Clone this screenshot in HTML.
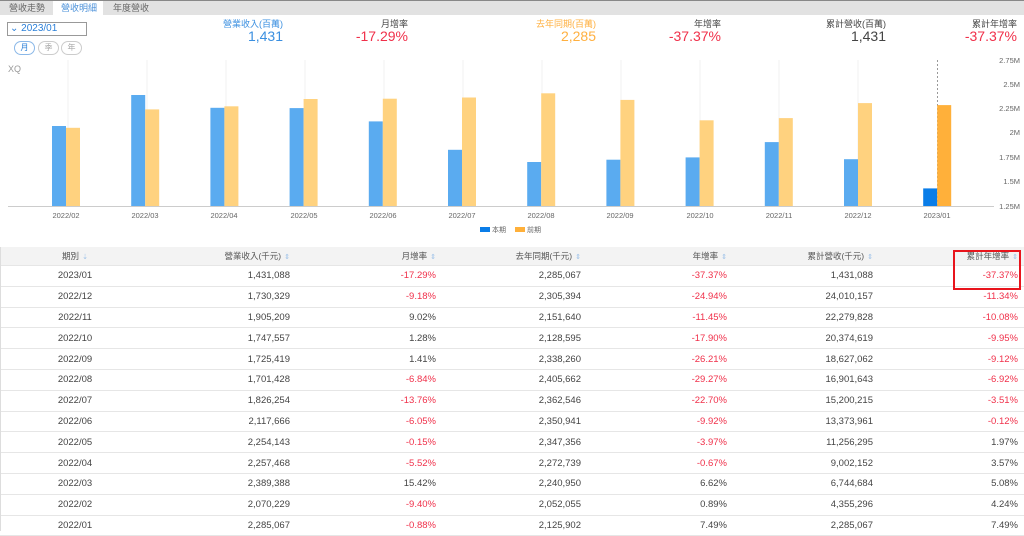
<!DOCTYPE html>
<html><head><meta charset="utf-8">
<style>
body{margin:0;width:1024px;height:531px;overflow:hidden;background:#fff;font-family:"Liberation Sans","Noto Sans CJK TC",sans-serif;position:relative;color:#444}
.a{position:absolute;white-space:nowrap}
.tabs{left:0;top:0;width:1024px;height:14px;background:#e2e2e2;border-top:1px solid #888}
.tab{position:absolute;top:1px;font-size:9px;color:#666}
.lbl{font-size:9px;text-align:right}
.val{font-size:14px;text-align:right}
.red{color:#f0304a}
table{position:absolute;left:0;top:247px;width:1024px;border-collapse:collapse;font-size:9.5px;color:#444}
td,th{height:19.8px;padding:0;border-bottom:1px solid #e6e6e6;text-align:right}
th{font-weight:normal;background:#f3f3f3;height:18px;font-size:8.5px;color:#555}
td.r{color:#f0304a}
.s{color:#9bc0e8;font-size:7px;margin-left:3px}
</style></head><body>
<div class="a tabs"></div>
<div class="a tab" style="left:9px">營收走勢</div>
<div class="a" style="left:53px;top:1px;width:50px;height:14px;background:#fff"></div>
<div class="a tab" style="left:61px;color:#4a90d9">營收明細</div>
<div class="a tab" style="left:113px">年度營收</div>
<div class="a" style="left:7px;top:22px;width:76px;height:12px;border:1px solid #999;font-size:10px;color:#2a7fd8;line-height:12px;padding-left:2px">⌄ 2023/01</div>
<div class="a" style="left:14px;top:41px;width:19px;height:12px;border:1px solid #8bb8e8;border-radius:7px;font-size:8px;color:#2a7fd8;text-align:center;line-height:12px">月</div>
<div class="a" style="left:38px;top:41px;width:19px;height:12px;border:1px solid #ccc;border-radius:7px;font-size:8px;color:#aaa;text-align:center;line-height:12px">季</div>
<div class="a" style="left:61px;top:41px;width:19px;height:12px;border:1px solid #ccc;border-radius:7px;font-size:8px;color:#aaa;text-align:center;line-height:12px">年</div>
<div class="a" style="left:8px;top:64px;font-size:9px;color:#999">XQ</div>

<div class="a lbl" style="right:741px;top:17px;color:#3a8fe0">營業收入(百萬)</div>
<div class="a val" style="right:741px;top:28px;color:#3a8fe0">1,431</div>
<div class="a lbl" style="right:616px;top:17px">月增率</div>
<div class="a val red" style="right:616px;top:28px">-17.29%</div>
<div class="a lbl" style="right:428px;top:17px;color:#ffb040">去年同期(百萬)</div>
<div class="a val" style="right:428px;top:28px;color:#ffb040">2,285</div>
<div class="a lbl" style="right:303px;top:17px">年增率</div>
<div class="a val red" style="right:303px;top:28px">-37.37%</div>
<div class="a lbl" style="right:138px;top:17px">累計營收(百萬)</div>
<div class="a val" style="right:138px;top:28px">1,431</div>
<div class="a lbl" style="right:7px;top:17px">累計年增率</div>
<div class="a val red" style="right:7px;top:28px">-37.37%</div>

<svg class="a" style="left:0;top:0" width="1024" height="245" font-family="Liberation Sans,Noto Sans CJK TC,sans-serif">
<g stroke="#f2f2f2" stroke-width="1">
<line x1="68" y1="60" x2="68" y2="206"/><line x1="147" y1="60" x2="147" y2="206"/><line x1="226" y1="60" x2="226" y2="206"/><line x1="305" y1="60" x2="305" y2="206"/><line x1="384" y1="60" x2="384" y2="206"/><line x1="463" y1="60" x2="463" y2="206"/><line x1="542" y1="60" x2="542" y2="206"/><line x1="621" y1="60" x2="621" y2="206"/><line x1="700" y1="60" x2="700" y2="206"/><line x1="779" y1="60" x2="779" y2="206"/><line x1="858" y1="60" x2="858" y2="206"/>
</g>
<line x1="8" y1="206.5" x2="994" y2="206.5" stroke="#ccc"/>
<line x1="937.5" y1="60" x2="937.5" y2="206" stroke="#999" stroke-dasharray="2,2"/>
<g fill="#5aabf0">
<rect x="52" y="126" width="14" height="80"/><rect x="131.2" y="95" width="14" height="111"/><rect x="210.4" y="107.8" width="14" height="98.2"/><rect x="289.6" y="108.1" width="14" height="97.9"/><rect x="368.8" y="121.4" width="14" height="84.6"/><rect x="448" y="149.8" width="14" height="56.2"/><rect x="527.2" y="162" width="14" height="44"/><rect x="606.4" y="159.7" width="14" height="46.3"/><rect x="685.6" y="157.4" width="14" height="48.6"/><rect x="764.8" y="142.1" width="14" height="63.9"/><rect x="844" y="159.2" width="14" height="46.8"/>
</g>
<rect x="923.2" y="188.4" width="14" height="17.6" fill="#0a7de8"/>
<g fill="#ffd27f">
<rect x="66" y="127.8" width="14" height="78.2"/><rect x="145.2" y="109.4" width="14" height="96.6"/><rect x="224.4" y="106.3" width="14" height="99.7"/><rect x="303.6" y="99" width="14" height="107"/><rect x="382.8" y="98.7" width="14" height="107.3"/><rect x="462" y="97.5" width="14" height="108.5"/><rect x="541.2" y="93.3" width="14" height="112.7"/><rect x="620.4" y="99.9" width="14" height="106.1"/><rect x="699.6" y="120.3" width="14" height="85.7"/><rect x="778.8" y="118.1" width="14" height="87.9"/><rect x="858" y="103.1" width="14" height="102.9"/>
</g>
<rect x="937.2" y="105.1" width="14" height="100.9" fill="#ffb03a"/>
<g font-size="7.5" fill="#666" text-anchor="end">
<text x="1020" y="63">2.75M</text><text x="1020" y="87">2.5M</text><text x="1020" y="111">2.25M</text><text x="1020" y="135">2M</text><text x="1020" y="160">1.75M</text><text x="1020" y="184">1.5M</text><text x="1020" y="209">1.25M</text>
</g>
<g font-size="7.5" fill="#666" text-anchor="middle">
<text x="66" y="218">2022/02</text><text x="145" y="218">2022/03</text><text x="224" y="218">2022/04</text><text x="304" y="218">2022/05</text><text x="383" y="218">2022/06</text><text x="462" y="218">2022/07</text><text x="541" y="218">2022/08</text><text x="620" y="218">2022/09</text><text x="700" y="218">2022/10</text><text x="779" y="218">2022/11</text><text x="858" y="218">2022/12</text><text x="937" y="218">2023/01</text>
</g>
<rect x="480" y="227" width="10" height="5" fill="#0a7de8"/><text x="492" y="232" font-size="7" fill="#666">本期</text>
<rect x="515" y="227" width="10" height="5" fill="#ffb03a"/><text x="527" y="232" font-size="7" fill="#666">前期</text>
</svg>

<table>
<colgroup><col style="width:150px"><col style="width:140px"><col style="width:146px"><col style="width:145px"><col style="width:146px"><col style="width:146px"><col style="width:151px"></colgroup>
<tr><th style="text-align:center">期別<span class="s">⇣</span></th><th>營業收入(千元)<span class="s">⇕</span></th><th>月增率<span class="s">⇕</span></th><th>去年同期(千元)<span class="s">⇕</span></th><th>年增率<span class="s">⇕</span></th><th>累計營收(千元)<span class="s">⇕</span></th><th style="padding-right:6px">累計年增率<span class="s">⇕</span></th></tr>
<tr><td style="text-align:center">2023/01</td><td>1,431,088</td><td class="r">-17.29%</td><td>2,285,067</td><td class="r">-37.37%</td><td>1,431,088</td><td class="r" style="padding-right:6px">-37.37%</td></tr>
<tr><td style="text-align:center">2022/12</td><td>1,730,329</td><td class="r">-9.18%</td><td>2,305,394</td><td class="r">-24.94%</td><td>24,010,157</td><td class="r" style="padding-right:6px">-11.34%</td></tr>
<tr><td style="text-align:center">2022/11</td><td>1,905,209</td><td>9.02%</td><td>2,151,640</td><td class="r">-11.45%</td><td>22,279,828</td><td class="r" style="padding-right:6px">-10.08%</td></tr>
<tr><td style="text-align:center">2022/10</td><td>1,747,557</td><td>1.28%</td><td>2,128,595</td><td class="r">-17.90%</td><td>20,374,619</td><td class="r" style="padding-right:6px">-9.95%</td></tr>
<tr><td style="text-align:center">2022/09</td><td>1,725,419</td><td>1.41%</td><td>2,338,260</td><td class="r">-26.21%</td><td>18,627,062</td><td class="r" style="padding-right:6px">-9.12%</td></tr>
<tr><td style="text-align:center">2022/08</td><td>1,701,428</td><td class="r">-6.84%</td><td>2,405,662</td><td class="r">-29.27%</td><td>16,901,643</td><td class="r" style="padding-right:6px">-6.92%</td></tr>
<tr><td style="text-align:center">2022/07</td><td>1,826,254</td><td class="r">-13.76%</td><td>2,362,546</td><td class="r">-22.70%</td><td>15,200,215</td><td class="r" style="padding-right:6px">-3.51%</td></tr>
<tr><td style="text-align:center">2022/06</td><td>2,117,666</td><td class="r">-6.05%</td><td>2,350,941</td><td class="r">-9.92%</td><td>13,373,961</td><td class="r" style="padding-right:6px">-0.12%</td></tr>
<tr><td style="text-align:center">2022/05</td><td>2,254,143</td><td class="r">-0.15%</td><td>2,347,356</td><td class="r">-3.97%</td><td>11,256,295</td><td style="padding-right:6px">1.97%</td></tr>
<tr><td style="text-align:center">2022/04</td><td>2,257,468</td><td class="r">-5.52%</td><td>2,272,739</td><td class="r">-0.67%</td><td>9,002,152</td><td style="padding-right:6px">3.57%</td></tr>
<tr><td style="text-align:center">2022/03</td><td>2,389,388</td><td>15.42%</td><td>2,240,950</td><td>6.62%</td><td>6,744,684</td><td style="padding-right:6px">5.08%</td></tr>
<tr><td style="text-align:center">2022/02</td><td>2,070,229</td><td class="r">-9.40%</td><td>2,052,055</td><td>0.89%</td><td>4,355,296</td><td style="padding-right:6px">4.24%</td></tr>
<tr><td style="text-align:center">2022/01</td><td>2,285,067</td><td class="r">-0.88%</td><td>2,125,902</td><td>7.49%</td><td>2,285,067</td><td style="padding-right:6px">7.49%</td></tr>
</table>
<div class="a" style="left:953px;top:250px;width:64px;height:36px;border:2px solid #e8141c"></div>
<div class="a" style="left:0;top:247px;width:1px;height:284px;background:#ddd"></div>
</body></html>
